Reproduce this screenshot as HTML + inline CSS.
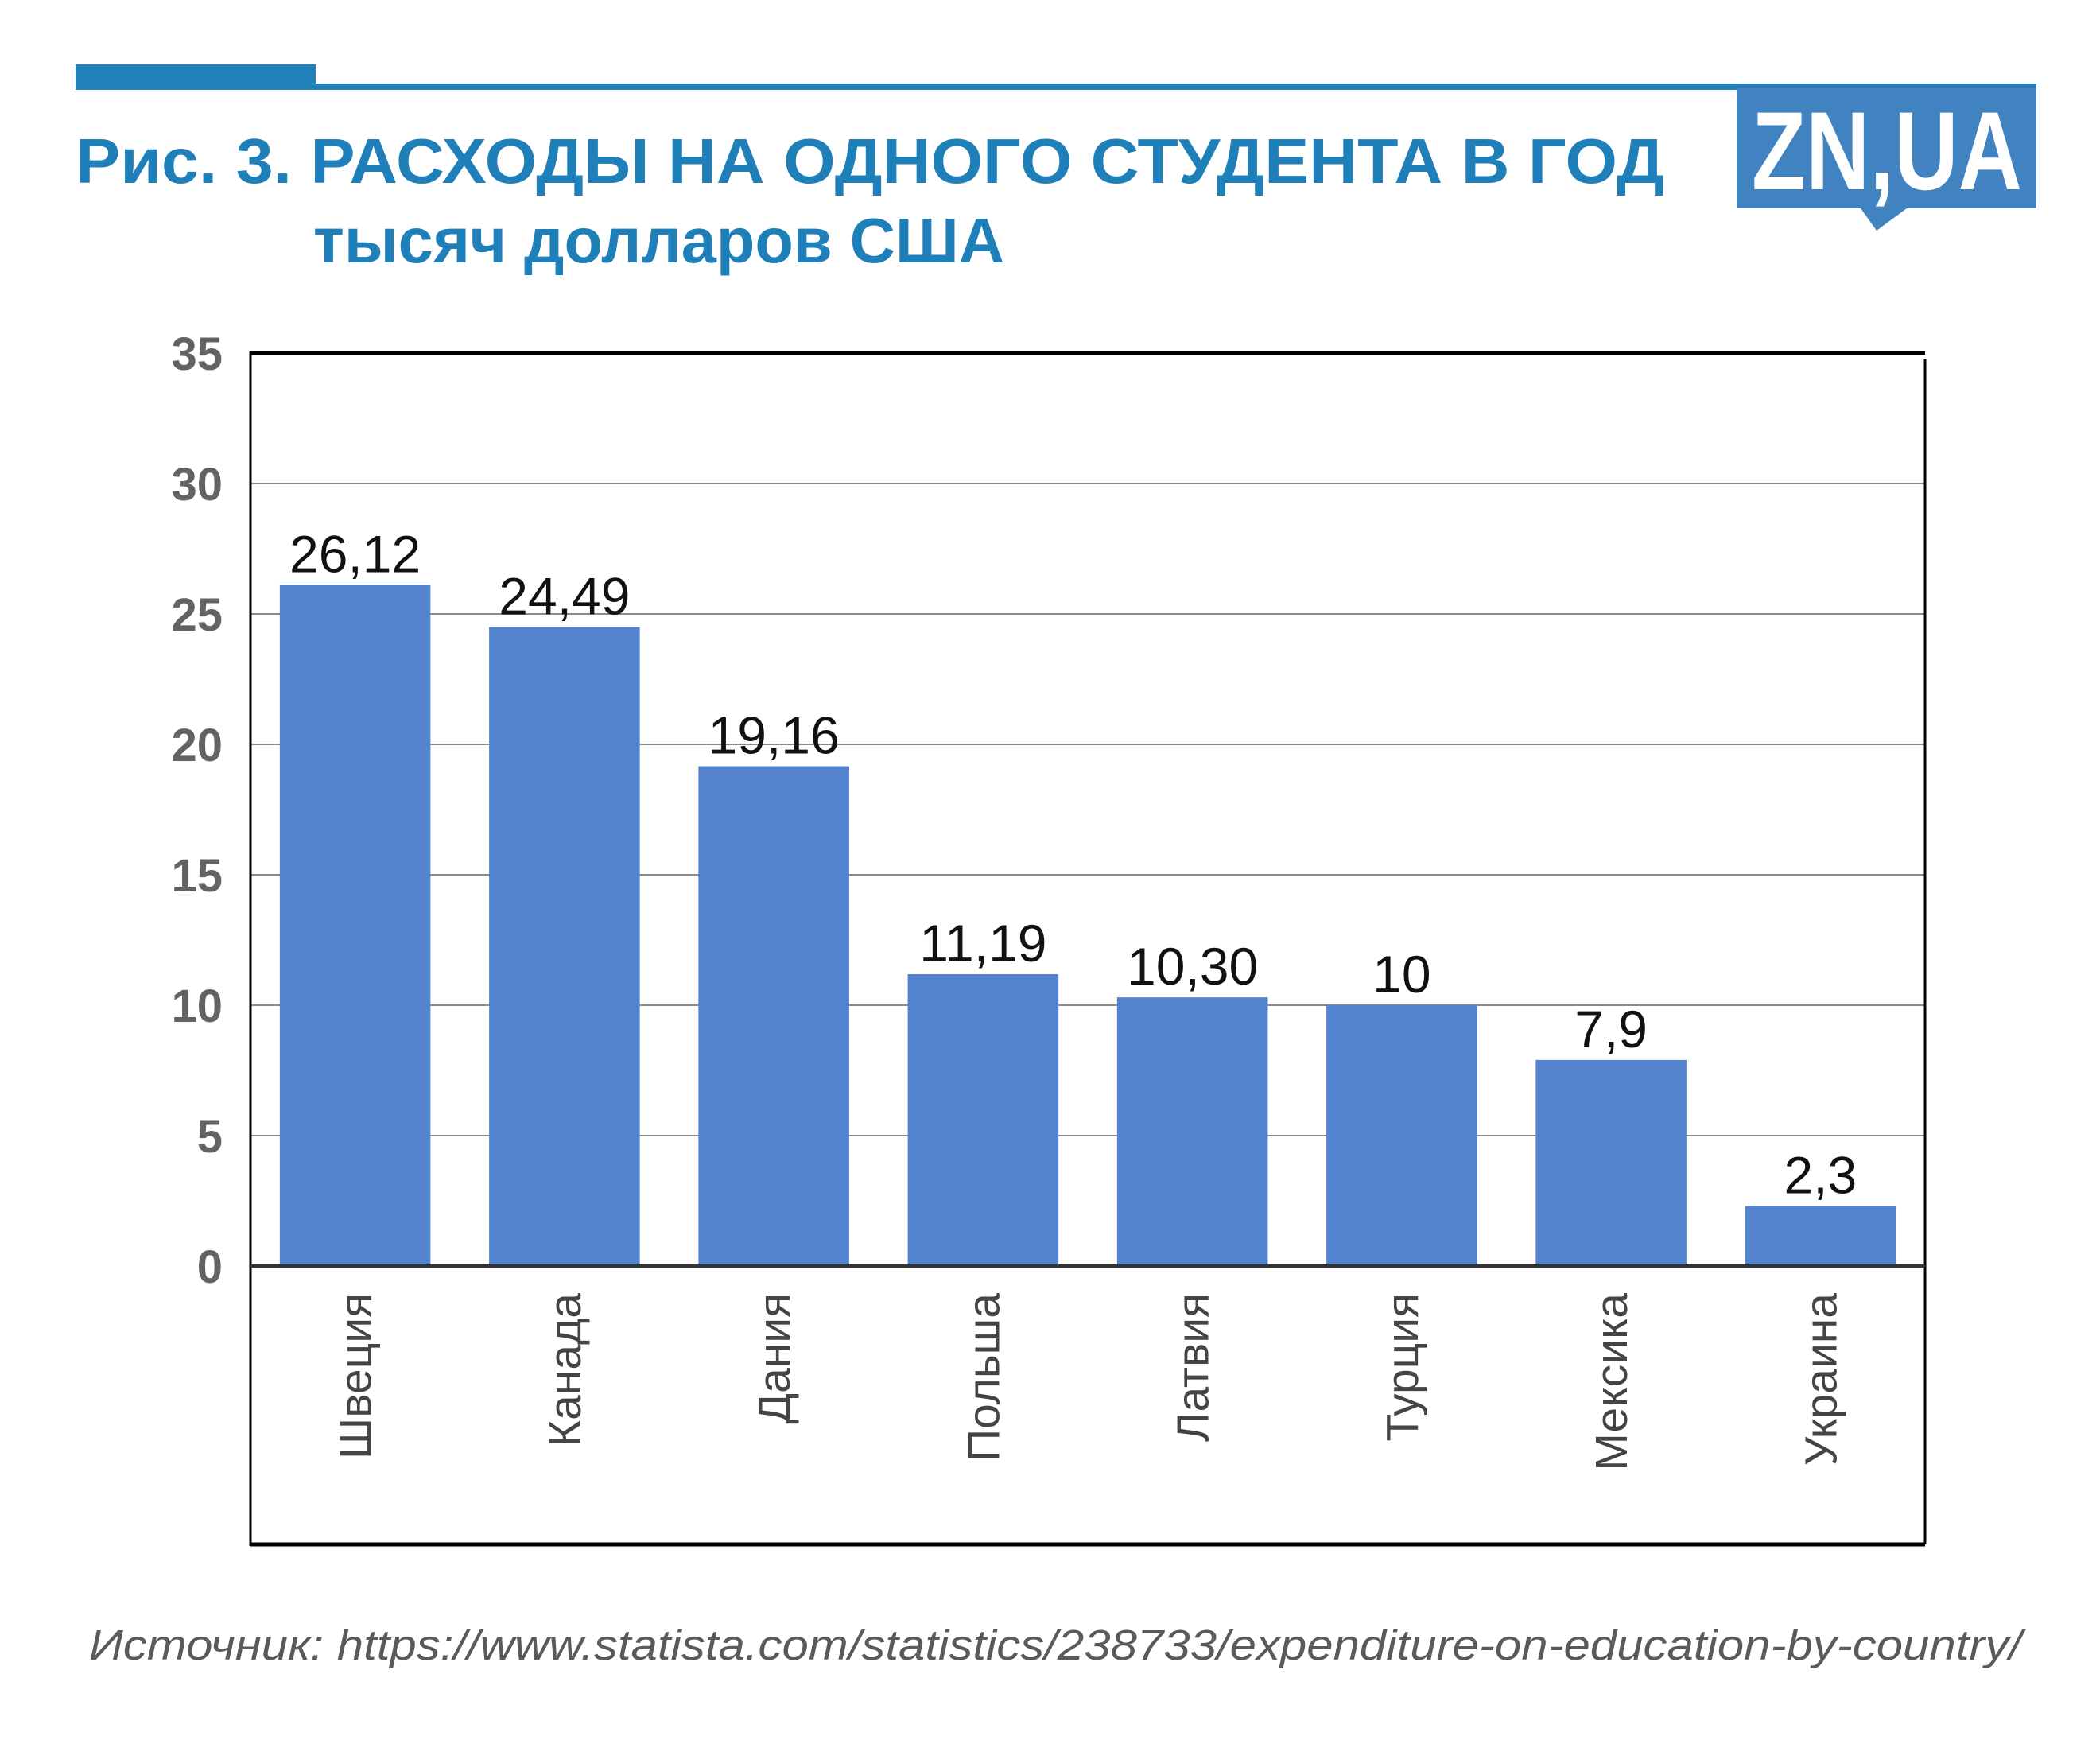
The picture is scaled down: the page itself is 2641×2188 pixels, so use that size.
<!DOCTYPE html>
<html><head><meta charset="utf-8"><style>
html,body{margin:0;padding:0;background:#fff;}
svg{display:block;}
</style></head><body>
<svg id="chart" width="2641" height="2188" viewBox="0 0 2641 2188" xmlns="http://www.w3.org/2000/svg" font-family="'Liberation Sans', 'DejaVu Sans', sans-serif">
  <rect x="0" y="0" width="2641" height="2188" fill="#fff"/>
  <rect x="95" y="81" width="302" height="32" fill="#2080b9"/>
  <rect x="95" y="105" width="2466" height="8" fill="#2080b9"/>
  <g>
    <rect x="2184" y="109" width="377" height="153" fill="#4182c0"/>
    <polygon points="2340,262 2398,262 2360,290" fill="#4182c0"/>
    <text x="2203" y="238" font-size="140" font-weight="bold" fill="#fff" textLength="340" lengthAdjust="spacingAndGlyphs">ZN,UA</text>
  </g>
  <text x="95" y="230" font-size="80" font-weight="bold" fill="#1f7fb8" textLength="1998" lengthAdjust="spacingAndGlyphs">Рис. 3. РАСХОДЫ НА ОДНОГО СТУДЕНТА В ГОД</text>
  <text x="394" y="330" font-size="80" font-weight="bold" fill="#1f7fb8" textLength="869" lengthAdjust="spacingAndGlyphs">тысяч долларов США</text>
  <g id="grid"></g>
  <g id="bars"></g>
  <g id="frame"></g>
  <text x="112" y="2087" font-size="54" font-style="italic" fill="#5a5a5a" textLength="2431" lengthAdjust="spacingAndGlyphs">Источник:  https://www.statista.com/statistics/238733/expenditure-on-education-by-country/</text>
</svg>
<script>
const categories = ["Швеция","Канада","Дания","Польша","Латвия","Турция","Мексика","Украина"];
const values = [26.12, 24.49, 19.16, 11.19, 10.30, 10, 7.9, 2.3];
const valueLabels = ["26,12","24,49","19,16","11,19","10,30","10","7,9","2,3"];
const yTicks = [0,5,10,15,20,25,30,35];

const NS = "http://www.w3.org/2000/svg";
const L = 315, R = 2421, T = 444, Z = 1592, B = 1942, YMAX = 35;
const y = v => Z - (v / YMAX) * (Z - T);
const band = (R - L) / categories.length;
const x = i => L + band * i;
function mk(tag, attrs, parent) {
  const e = document.createElementNS(NS, tag);
  for (const k in attrs) e.setAttribute(k, attrs[k]);
  parent.appendChild(e);
  return e;
}
const grid = document.getElementById('grid');
const bars = document.getElementById('bars');
const frame = document.getElementById('frame');

yTicks.forEach(t => {
  if (t > 0 && t < YMAX) {
    const g = mk('line', {x1: L, x2: R, y1: y(t), y2: y(t), stroke: '#8a8a8a', 'stroke-width': 2}, grid);
    
    
  }
  const lb = mk('text', {x: 280, y: y(t) + 21, 'font-size': 58, 'font-weight': 'bold', fill: '#636363', 'text-anchor': 'end'}, grid);
  lb.textContent = t;
  
  
});

categories.forEach((c, i) => {
  const bw = band * 0.72;
  const bx = x(i) + (band - bw) / 2;
  const r = mk('rect', {x: bx, y: y(values[i]), width: bw, height: Z - y(values[i]), fill: '#5382ce'}, bars);
  
  
  const cx = x(i) + band / 2;
  const vl = mk('text', {x: cx, y: y(values[i]) - 16, 'font-size': 66, fill: '#111', 'text-anchor': 'middle'}, bars);
  vl.textContent = valueLabels[i];
  
  
  const cl = mk('text', {x: 0, y: 0, 'font-size': 57, fill: '#444', 'text-anchor': 'end', transform: 'translate(' + (cx + 20) + ',1626) rotate(-90)'}, bars);
  cl.textContent = c;
  
  
});

const lines = [
  ['frame-top', L, T, R, T, '#000', 5],
  ['frame-left', L, T - 2, L, B + 2, '#000', 3],
  ['frame-right', R, T + 8, R, B, '#000', 3],
  ['frame-bottom', L, B, R, B, '#000', 5],
  ['zero-line', L, Z, R, Z, '#333', 4]
];
lines.forEach(l => {
  const e = mk('line', {x1: l[1], y1: l[2], x2: l[3], y2: l[4], stroke: l[5], 'stroke-width': l[6]}, frame);
  
  
});
</script>
</body></html>
